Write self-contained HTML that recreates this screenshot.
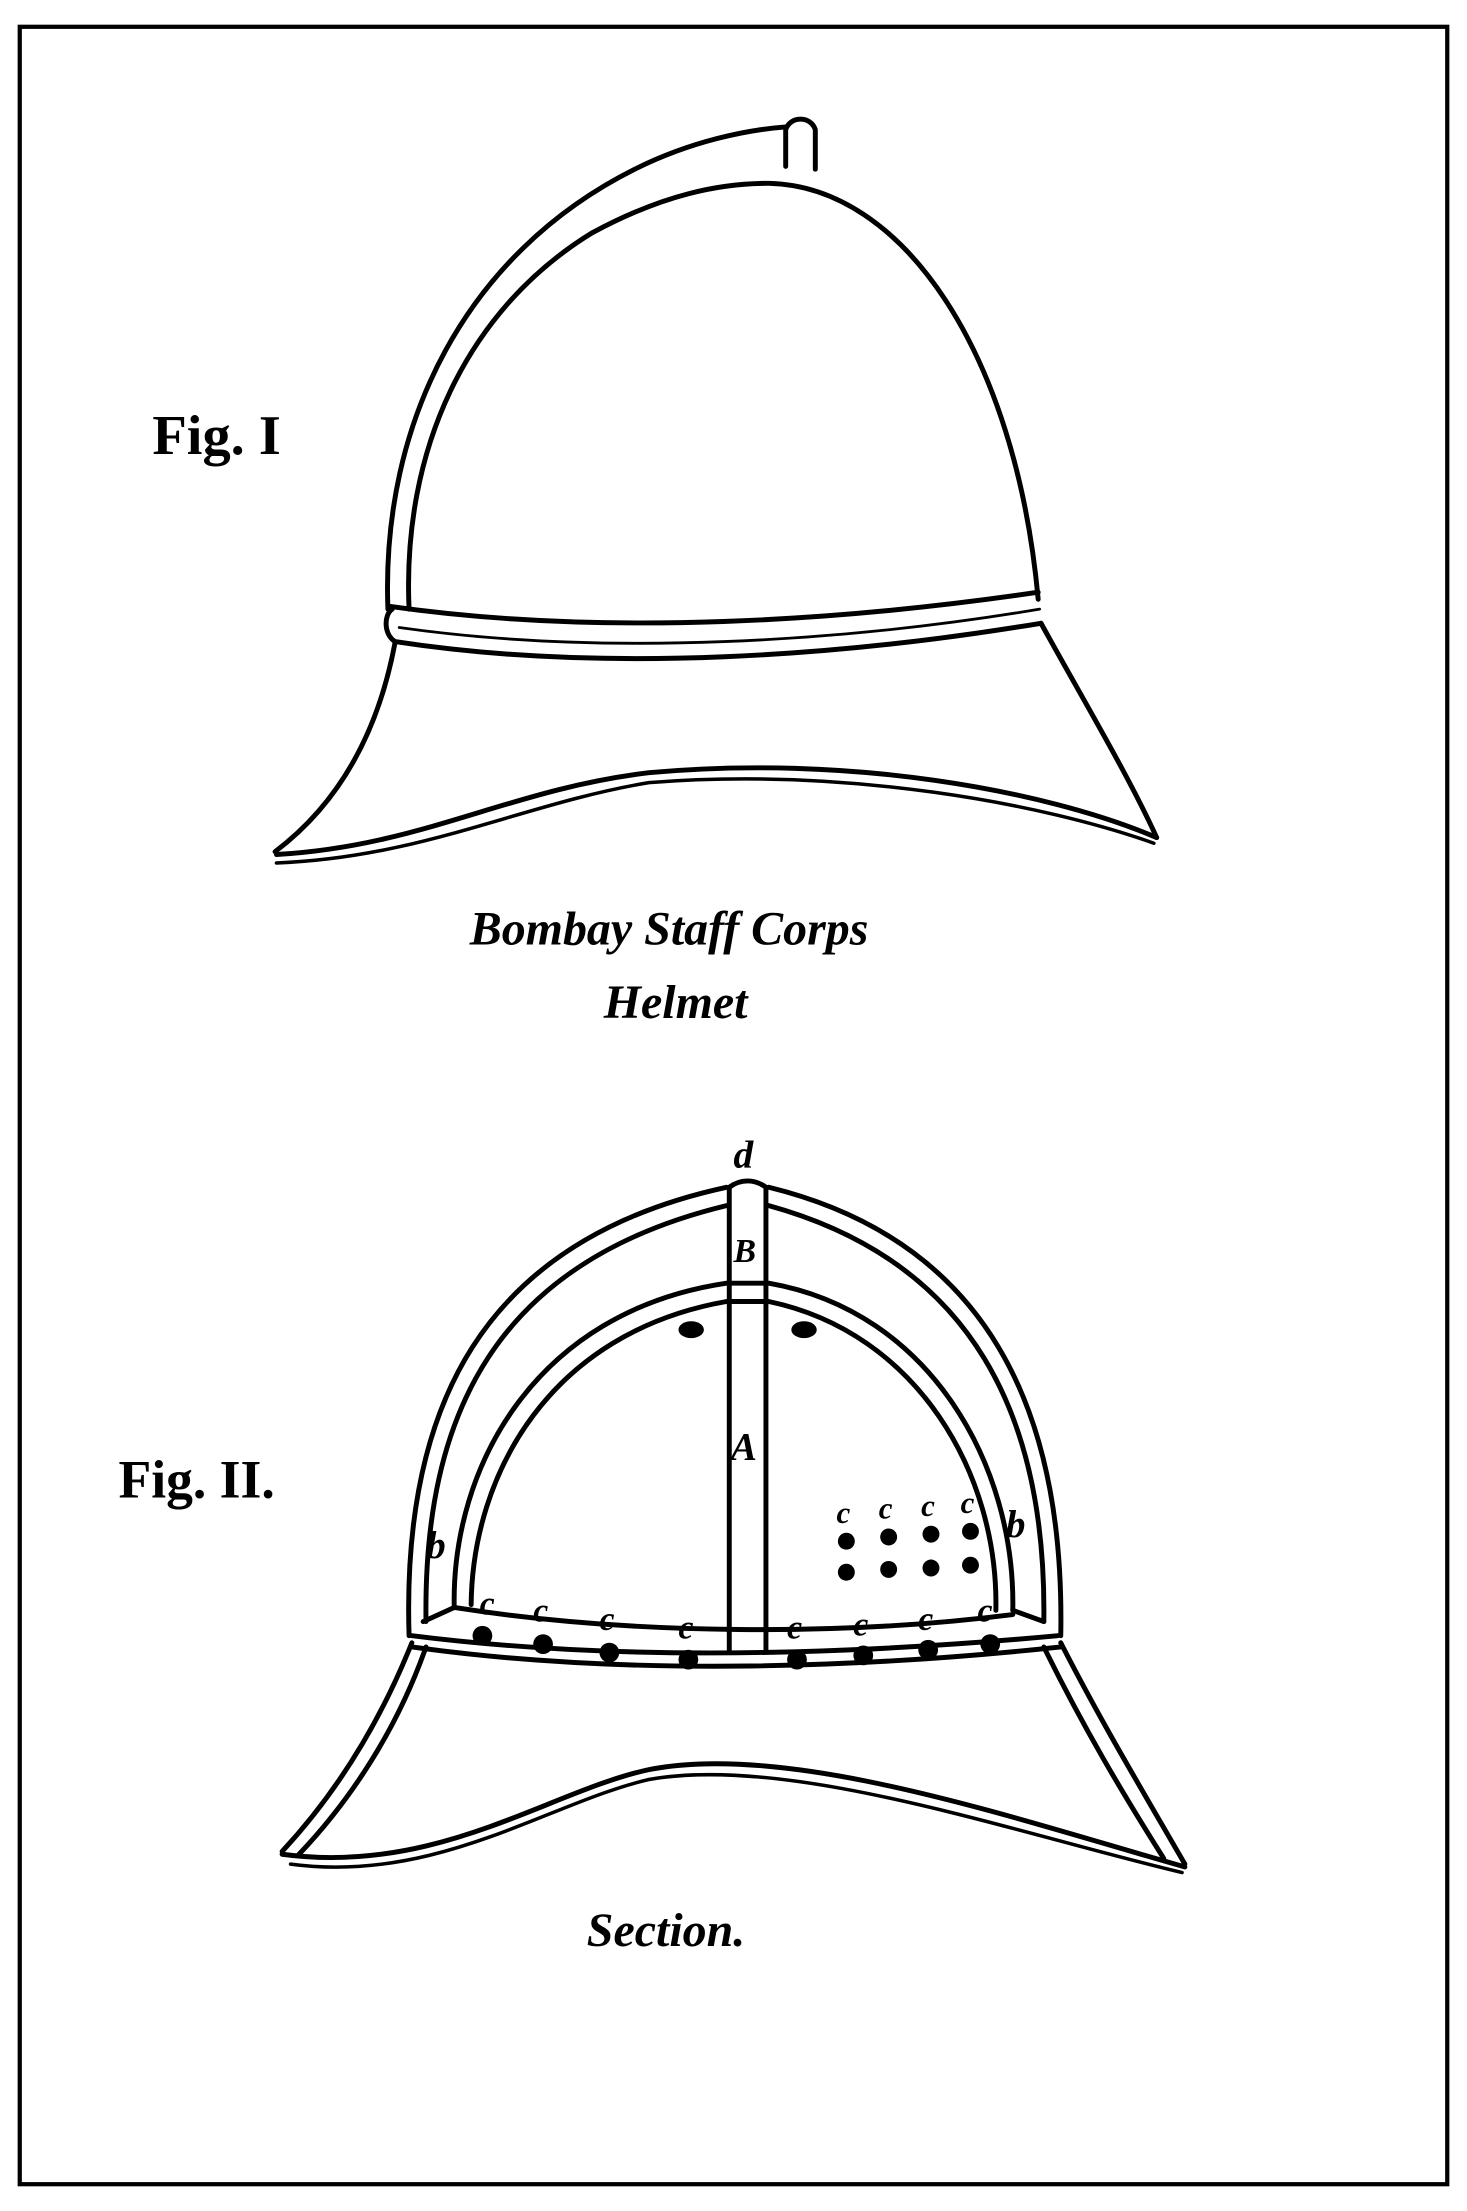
<!DOCTYPE html>
<html><head><meta charset="utf-8"><style>
html,body{margin:0;padding:0;background:#fff;}
svg{display:block;}
text{font-family:"Liberation Serif",serif;fill:#000;}
</style></head><body>
<svg width="1467" height="2211" viewBox="0 0 1040 1568" preserveAspectRatio="none" xmlns="http://www.w3.org/2000/svg">
<rect x="0" y="0" width="1040" height="1568" fill="#fff"/>
<rect x="14" y="19" width="1012" height="1530" fill="none" stroke="#000" stroke-width="3"/>
<g fill="none" stroke="#000" stroke-width="3.5" stroke-linejoin="round" stroke-linecap="round">
<!-- Fig I -->
<path d="M275,432 C270,300 330,180 450,120 C490,100 530,92 557,90"/>
<path d="M290,432 C285,320 330,220 420,165 C470,138 510,130 545,130 C640,132 720,250 736,425"/>
<path d="M557,118 L557,92 C560,82 575,82 578,92 L578,120"/>
<path d="M276,430 C430,452 600,440 736,420"/>
<path d="M278,432 C272,436 272,450 280,455"/>
<path d="M280,455 C430,478 600,465 738,442"/>
<path d="M283,445 C430,466 600,455 737,432" stroke-width="2"/>
<path d="M280,456 C268,520 240,570 195,604"/>
<path d="M738,442 C770,500 800,550 820,594"/>
<path d="M196,606 C300,600 360,560 460,548 C600,535 740,560 820,594"/>
<path d="M196,612 C300,608 370,570 460,555 C600,544 740,570 818,598" stroke-width="2.5"/>
<!-- Fig II outer shell -->
<path d="M290,1160 C285,1000 340,880 515,842 M545,842 C700,880 755,1000 752,1160"/>
<path d="M302,1150 C300,1005 350,895 515,855 M545,855 C690,895 742,1005 740,1150"/>
<!-- inner dome -->
<path d="M322,1140 C320,1040 380,930 515,910 M545,910 C660,930 720,1040 718,1142"/>
<path d="M334,1138 C335,1045 390,945 515,923 M545,923 C650,945 708,1045 706,1142"/>
<!-- rod -->
<path d="M517,842 L517,1170 M543,842 L543,1170"/>
<path d="M517,842 C525,836 535,836 543,842"/>
<path d="M517,910 L543,910 M517,923 L543,923"/>
<!-- band -->
<path d="M292,1160 C450,1180 620,1172 750,1160"/>
<path d="M322,1140 C450,1160 600,1160 718,1145"/>
<path d="M300,1150 L322,1140 M740,1150 L718,1142"/>
<path d="M292,1168 C450,1190 620,1182 752,1168"/>
<!-- brim -->
<path d="M292,1165 C270,1220 240,1270 200,1313"/>
<path d="M302,1168 C282,1225 250,1275 212,1315"/>
<path d="M752,1165 C780,1220 810,1270 840,1322"/>
<path d="M740,1168 C768,1225 796,1272 825,1318"/>
<path d="M200,1315 C310,1330 390,1270 460,1255 C560,1235 720,1290 840,1324"/>
<path d="M206,1322 C310,1336 390,1278 460,1262 C560,1244 720,1300 838,1328" stroke-width="2.5"/>
</g>
<g fill="#000">
<ellipse cx="490" cy="943" rx="9" ry="6"/><ellipse cx="570" cy="943" rx="9" ry="6"/>
<circle cx="600" cy="1093" r="6"/><circle cx="630" cy="1090" r="6"/><circle cx="660" cy="1088" r="6"/><circle cx="688" cy="1086" r="6"/>
<circle cx="600" cy="1115" r="6"/><circle cx="630" cy="1113" r="6"/><circle cx="660" cy="1112" r="6"/><circle cx="688" cy="1110" r="6"/>
<circle cx="342" cy="1160" r="7"/><circle cx="385" cy="1166" r="7"/><circle cx="432" cy="1172" r="7"/><circle cx="488" cy="1177" r="7"/>
<circle cx="565" cy="1177" r="7"/><circle cx="612" cy="1174" r="7"/><circle cx="658" cy="1170" r="7"/><circle cx="702" cy="1166" r="7"/>
</g>
<text x="108" y="322" font-size="40" font-weight="bold">Fig. I</text>
<text x="333" y="670" font-size="34" font-style="italic" font-weight="bold">Bombay Staff Corps</text>
<text x="428" y="722" font-size="34" font-style="italic" font-weight="bold">Helmet</text>
<text x="84" y="1062" font-size="38" font-weight="bold">Fig. II.</text>
<text x="416" y="1380" font-size="34" font-style="italic" font-weight="bold">Section.</text>
<g font-style="italic" font-size="28" font-weight="bold">
<text x="520" y="828">d</text>
<text x="520" y="895" font-size="24">B</text>
<text x="518" y="1035">A</text>
<text x="302" y="1105">b</text>
<text x="713" y="1090">b</text>
<text x="340" y="1145" font-size="24">c</text>
<text x="378" y="1150" font-size="24">c</text>
<text x="425" y="1156" font-size="24">c</text>
<text x="481" y="1162" font-size="24">c</text>
<text x="558" y="1162" font-size="24">c</text>
<text x="605" y="1160" font-size="24">c</text>
<text x="651" y="1156" font-size="24">c</text>
<text x="693" y="1150" font-size="24">c</text>
<text x="593" y="1080" font-size="22">c</text><text x="623" y="1077" font-size="22">c</text><text x="653" y="1075" font-size="22">c</text><text x="681" y="1073" font-size="22">c</text>
</g>
</svg>
</body></html>
